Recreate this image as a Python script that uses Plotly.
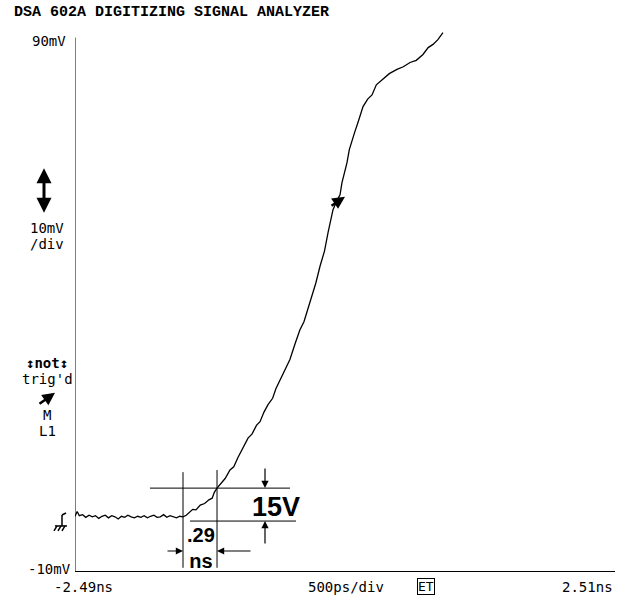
import plotly.graph_objects as go

# ---- data ----
time_ns = [-2.49, -2.47, -2.45, -2.42, -2.39, -2.36, -2.33, -2.30, -2.27, -2.24,
           -2.21, -2.18, -2.15, -2.12, -2.09, -2.06, -2.03, -2.00, -1.97, -1.94,
           -1.91, -1.88, -1.85, -1.82, -1.79, -1.76, -1.73, -1.70, -1.67, -1.64,
           -1.61, -1.58, -1.55, -1.52, -1.49, -1.46,
           -1.43, -1.40, -1.37, -1.33, -1.29, -1.25, -1.22, -1.20, -1.175, -1.14,
           -1.10, -1.055, -1.02, -0.98, -0.944, -0.91, -0.888, -0.85, -0.81, -0.777,
           -0.74, -0.703, -0.66, -0.63, -0.592, -0.546, -0.50, -0.45, -0.407, -0.37,
           -0.33, -0.296, -0.26, -0.222, -0.18, -0.147, -0.12, -0.101, -0.06, -0.036,
           -0.018, 0.005, 0.028, 0.05, 0.075, 0.10, 0.130, 0.155, 0.177, 0.22,
           0.260, 0.30, 0.353, 0.42, 0.491, 0.55, 0.612, 0.67, 0.732, 0.78,
           0.825, 0.87, 0.917]
volt_mV = [0.3, 1.2, 0.4, 0.6, 0.1, 0.5, 0.2, 0.4, -0.1, 0.3,
           0.5, 0.0, 0.4, 0.2, -0.2, 0.3, 0.1, 0.5, 0.2, 0.0,
           0.3, 0.1, 0.4, 0.0, 0.3, 0.5, 0.1, 0.2, 0.6, 0.1,
           0.4, 0.2, 0.0, 0.3, 0.2, 0.5,
           1.0, 1.6, 1.5, 2.4, 2.7, 3.4, 3.7, 4.8, 5.6, 6.5,
           7.4, 9.0, 9.6, 11.4, 12.8, 13.9, 15.0, 15.8, 17.4, 18.1,
           19.9, 21.3, 22.5, 24.3, 26.0, 27.9, 29.8, 32.9, 35.4, 36.9,
           39.5, 41.6, 44.2, 47.3, 50.2, 53.7, 55.9, 58.0, 59.9, 60.8,
           63.1, 64.8, 66.8, 69.3, 71.2, 72.6, 74.4, 76.1, 77.4, 78.8,
           79.6, 81.5, 82.5, 83.6, 84.4, 84.9, 85.7, 86.1, 87.2, 88.5,
           89.1, 90.0, 91.3]

x_range = [-2.49, 2.51]
y_screen = [-10, 90]              # labelled screen limits (mV)
y_range = [-10, 92]               # a little head-room so the trace end shows
cursor_t = [-1.49, -1.175]        # vertical cursors (ns)
cursor_v = [5.6, -0.6]            # horizontal cursors (mV)
label_delta_v = "15V"
label_delta_t = ".29<br>ns"

W, H = 626, 599
L, R, B = 75, 11, 28
PX_PER_MV = (H - B - 40) / (y_screen[1] - y_screen[0])
T = 40 - (y_range[1] - y_screen[1]) * PX_PER_MV
PW, PH = W - L - R, H - T - B


def px(x):
    return (x - L) / PW


def py(y):
    return (H - B - y) / PH


fig = go.Figure()
fig.add_trace(go.Scatter(x=time_ns, y=volt_mV, mode="lines",
                         line=dict(color="black", width=1.3),
                         hoverinfo="skip", showlegend=False))

shapes = []
# y axis line (only up to the 90 mV screen top)
shapes.append(dict(type="line", xref="x", yref="y", x0=x_range[0], x1=x_range[0],
                   y0=y_screen[0], y1=y_screen[1] + 0.4, line=dict(color="black", width=1)))
# cursors
shapes.append(dict(type="line", xref="x", yref="y", x0=cursor_t[0], x1=cursor_t[0],
                   y0=8.6, y1=-9.4, line=dict(color="black", width=1)))
shapes.append(dict(type="line", xref="x", yref="y", x0=cursor_t[1], x1=cursor_t[1],
                   y0=9.0, y1=-9.4, line=dict(color="black", width=1)))
shapes.append(dict(type="line", xref="x", yref="y", x0=-1.796, x1=-0.499,
                   y0=cursor_v[0], y1=cursor_v[0], line=dict(color="black", width=1)))
shapes.append(dict(type="line", xref="x", yref="y", x0=-1.425, x1=-0.444,
                   y0=cursor_v[1], y1=cursor_v[1], line=dict(color="black", width=1)))

# ground symbol (left of plot)
gs = [((62, 515), (62, 526)), ((62, 515), (66, 513)), ((55, 526), (67, 526)),
      ((57, 526), (54, 531)), ((61, 526), (58, 531)), ((65, 526), (62, 531))]
for (a, b) in gs:
    shapes.append(dict(type="line", xref="paper", yref="paper",
                       x0=px(a[0]), y0=py(a[1]), x1=px(b[0]), y1=py(b[1]),
                       line=dict(color="black", width=1.5)))

ann = []
mono = "DejaVu Sans Mono"


def label(x, y, text, size=14, bold=False, xanchor="center", family=mono):
    if bold:
        text = "<b>" + text + "</b>"
    ann.append(dict(xref="paper", yref="paper", x=px(x), y=py(y), text=text,
                    showarrow=False, xanchor=xanchor, yanchor="middle",
                    font=dict(family=family, size=size, color="black")))


label(12, 13, "DSA 602A DIGITIZING SIGNAL ANALYZER", size=15, bold=True,
      xanchor="left", family="Liberation Mono")
label(68, 41, "90mV", xanchor="right")
label(47, 228, "10mV")
label(47, 244, "/div")
label(47, 363, "↕not↕", bold=True)
label(47, 379, "trig'd")
label(47, 415, "M")
label(47, 431, "L1")
label(73, 569, "-10mV", xanchor="right")
label(83, 587, "-2.49ns")
label(346, 587, "500ps/div")
label(615, 587, "2.51ns", xanchor="right")
ann.append(dict(xref="paper", yref="paper", x=px(426), y=py(586), text="ET",
                showarrow=False, xanchor="center", yanchor="middle",
                font=dict(family=mono, size=13, color="black"),
                bordercolor="black", borderwidth=1, borderpad=0))

narrow = "Liberation Sans Narrow, Arial Narrow, Liberation Sans"
label(276, 507, label_delta_v, size=27, bold=True, family=narrow)
label(201, 548, label_delta_t, size=20, bold=True, family=narrow)


def arrow(x0, y0, x1, y1, width=1.2, head=2, size=1.2, both=False):
    ann.append(dict(xref="paper", yref="paper", axref="pixel", ayref="pixel",
                    x=px(x1), y=py(y1), ax=x0 - x1, ay=y0 - y1, text="",
                    showarrow=True, arrowhead=head, arrowsize=size,
                    arrowwidth=width, arrowcolor="black",
                    arrowside="end+start" if both else "end"))


# cursor arrows
arrow(265, 467, 265, 488)
arrow(265, 545, 265, 521)
arrow(166, 551, 183, 551)
arrow(252, 551, 217, 551)
# double arrow (volts/div)
arrow(44, 167, 44, 213, width=3, head=2, size=1.0, both=True)
# trigger-point arrows
arrow(38, 405, 55, 393, width=2.5, head=2, size=1.0)
arrow(330, 207, 345, 197, width=2.5, head=2, size=1.0)

fig.update_layout(
    width=W, height=H, margin=dict(l=L, r=R, t=T, b=B, pad=0),
    paper_bgcolor="white", plot_bgcolor="white",
    shapes=shapes, annotations=ann,
    xaxis=dict(range=x_range, showgrid=False, zeroline=False, showline=True,
               linecolor="black", linewidth=1, showticklabels=False, ticks=""),
    yaxis=dict(range=y_range, showgrid=False, zeroline=False, showline=False,
               showticklabels=False, ticks=""),
    showlegend=False,
)
fig.write_html("out.html", config={"displayModeBar": False},
               post_script="document.body.style.margin='0';")
